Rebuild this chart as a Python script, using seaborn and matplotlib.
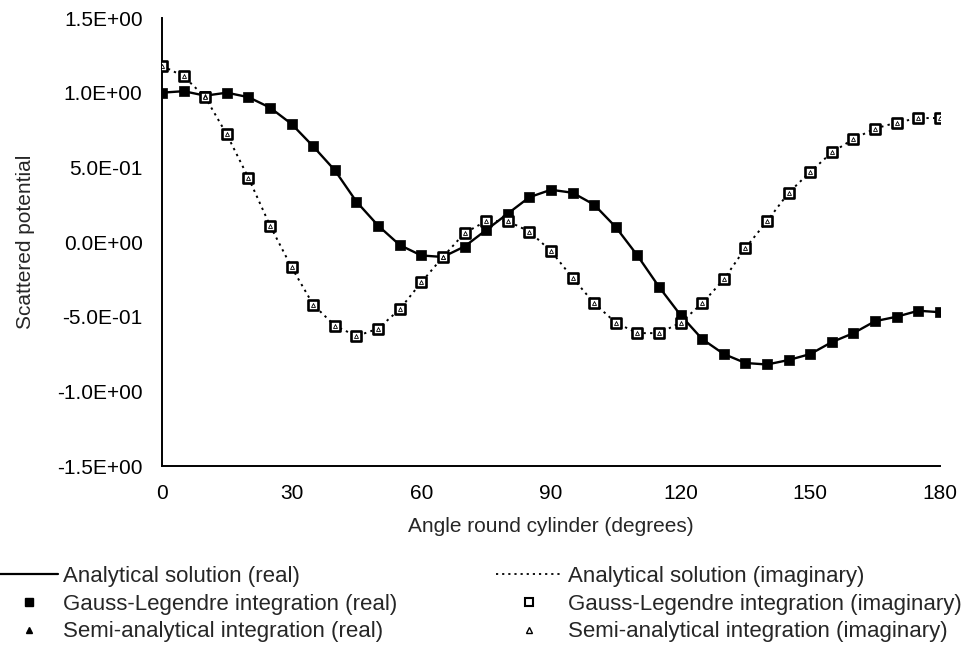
import matplotlib
matplotlib.use("Agg")
import matplotlib.pyplot as plt
import seaborn as sns
from matplotlib.lines import Line2D
from matplotlib.ticker import FuncFormatter

# angles round the cylinder (degrees)
angle = [0, 5, 10, 15, 20, 25, 30, 35, 40, 45, 50, 55, 60, 65, 70, 75, 80, 85, 90,
         95, 100, 105, 110, 115, 120, 125, 130, 135, 140, 145, 150, 155, 160, 165,
         170, 175, 180]

# scattered potential, real part
real_part = [1.00, 1.01, 0.98, 1.00, 0.97, 0.90, 0.79, 0.64, 0.48, 0.27, 0.11, -0.02,
             -0.09, -0.10, -0.03, 0.08, 0.19, 0.30, 0.35, 0.33, 0.25, 0.10, -0.09,
             -0.30, -0.49, -0.65, -0.75, -0.81, -0.82, -0.79, -0.75, -0.67, -0.61,
             -0.53, -0.50, -0.46, -0.47]

# scattered potential, imaginary part
imag_part = [1.18, 1.11, 0.97, 0.72, 0.43, 0.11, -0.17, -0.42, -0.56, -0.63, -0.58,
             -0.45, -0.27, -0.10, 0.06, 0.14, 0.14, 0.07, -0.06, -0.24, -0.41, -0.54,
             -0.61, -0.61, -0.54, -0.41, -0.25, -0.04, 0.14, 0.33, 0.47, 0.60, 0.69,
             0.76, 0.80, 0.83, 0.83]

# the three methods agree to plotting accuracy
analytical_real, analytical_imag = real_part, imag_part
gauss_real, gauss_imag = real_part, imag_part
semi_real, semi_imag = real_part, imag_part

xticks = [0, 30, 60, 90, 120, 150, 180]
yticks = [-1.5, -1.0, -0.5, 0.0, 0.5, 1.0, 1.5]

sns.set_style("white")
plt.rcParams["font.family"] = ["Liberation Sans", "DejaVu Sans"]

fig = plt.figure(figsize=(9.66, 6.5), dpi=100)
ax = fig.add_axes([0.1677, 0.283, 0.8053, 0.6893])

dotted = (0, (1.2, 2.2))
sns.lineplot(x=angle, y=analytical_real, ax=ax, color="black", lw=1.7, ls="-")
sns.lineplot(x=angle, y=analytical_imag, ax=ax, color="black", lw=1.4, ls=dotted)

sns.scatterplot(x=angle, y=gauss_real, ax=ax, marker="s", s=60, color="black",
                edgecolor="black", linewidth=0.5, zorder=3)
sns.scatterplot(x=angle, y=gauss_imag, ax=ax, marker="s", s=48, facecolor="white",
                edgecolor="black", linewidth=1.9, zorder=3)
sns.scatterplot(x=angle, y=semi_real, ax=ax, marker="^", s=10, color="black",
                edgecolor="black", linewidth=0.3, zorder=4)
sns.scatterplot(x=angle, y=semi_imag, ax=ax, marker="^", s=8, facecolor="white",
                edgecolor="black", linewidth=0.6, zorder=4)

ax.set_xlim(0, 180)
ax.set_ylim(-1.5, 1.5)
ax.set_xticks(xticks)
ax.set_yticks(yticks)
ax.yaxis.set_major_formatter(FuncFormatter(lambda v, p: f"{v:.1E}"))
ax.tick_params(axis="both", direction="in", length=5, width=1.2, colors="black",
               labelsize=15)
ax.tick_params(axis="y", pad=14)
ax.tick_params(axis="x", pad=13)
for side in ["top", "right"]:
    ax.spines[side].set_visible(False)
for side in ["left", "bottom"]:
    ax.spines[side].set_color("black")
    ax.spines[side].set_linewidth(1.4)

ax.set_xlabel("Angle round cylinder (degrees)", fontsize=15, labelpad=10)
ax.set_ylabel("Scattered potential", fontsize=15, labelpad=16)

left_handles = [
    Line2D([], [], color="black", lw=1.6),
    Line2D([], [], ls="none", marker="s", ms=6, color="black"),
    Line2D([], [], ls="none", marker="^", ms=5, color="black"),
]
left_labels = ["Analytical solution (real)", "Gauss-Legendre integration (real)",
               "Semi-analytical integration (real)"]
right_handles = [
    Line2D([], [], color="black", lw=1.3, ls=dotted),
    Line2D([], [], ls="none", marker="s", ms=5.5, mfc="white", mec="black", mew=1.5),
    Line2D([], [], ls="none", marker="^", ms=5, mfc="white", mec="black", mew=1.0),
]
right_labels = ["Analytical solution (imaginary)", "Gauss-Legendre integration (imaginary)",
                "Semi-analytical integration (imaginary)"]

leg_kw = dict(frameon=False, fontsize=16, handletextpad=0.25,
              labelspacing=0.3, borderaxespad=0, borderpad=0)
fig.legend(left_handles, left_labels, loc="upper left", handlelength=2.6,
           bbox_to_anchor=(0.0, 0.129), **leg_kw)
fig.legend(right_handles, right_labels, loc="upper left", handlelength=3.0,
           bbox_to_anchor=(0.513, 0.129), **leg_kw)

plt.savefig("out.png", dpi=100)
